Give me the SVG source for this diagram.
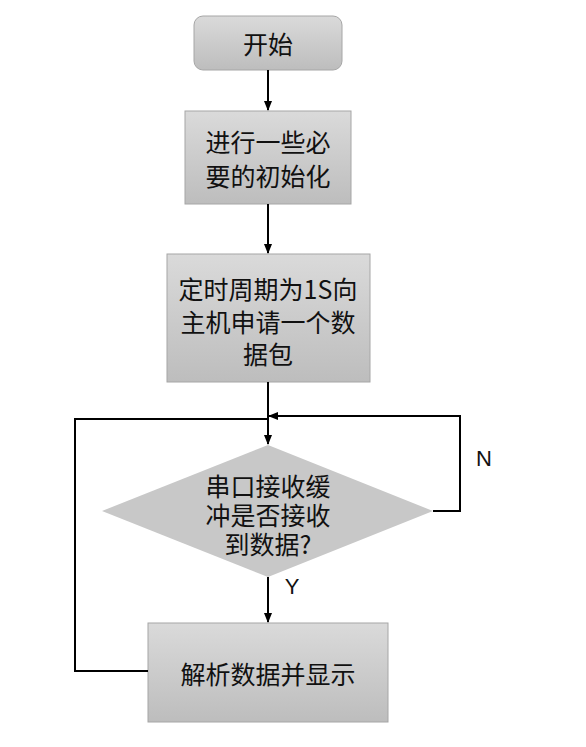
<svg xmlns="http://www.w3.org/2000/svg" width="586" height="747" viewBox="0 0 586 747">
<defs>
<linearGradient id="g" x1="0" y1="0" x2="0" y2="1">
<stop offset="0" stop-color="#dadada"/>
<stop offset="1" stop-color="#bdbdbd"/>
</linearGradient>
<marker id="ah" markerWidth="10" markerHeight="10" refX="9" refY="5" orient="auto" markerUnits="userSpaceOnUse">
<path d="M0,1 L10,5 L0,9 Z" fill="#000"/>
</marker>
<style>
.box{fill:url(#g);stroke:#a6a6a6;stroke-width:1}
.t{font-family:"Noto Sans CJK SC","Noto Sans",sans-serif;font-size:25px;fill:#111;text-anchor:middle;dominant-baseline:central}
.l{font-family:"Liberation Sans","DejaVu Sans",sans-serif;font-size:22px;fill:#111;text-anchor:middle;dominant-baseline:central}
.c{fill:none;stroke:#000;stroke-width:2}
</style>
</defs>
<rect width="586" height="747" fill="#fff"/>
<g id="start">
<rect class="box" x="194" y="16" width="148" height="54" rx="9"/>
<text class="t" x="268" y="43">开始</text>
</g>
<g id="init">
<rect class="box" x="185" y="111" width="166" height="93"/>
<text class="t" x="268" y="141">进行一些必</text>
<text class="t" x="268" y="175">要的初始化</text>
</g>
<g id="timer">
<rect class="box" x="167" y="254" width="203" height="128"/>
<text class="t" x="268" y="288">定时周期为1S向</text>
<text class="t" x="268" y="321">主机申请一个数</text>
<text class="t" x="268" y="353">据包</text>
</g>
<g id="check">
<polygon points="268,445 433,511 268,577 102,511" fill="#c8c8c8"/>
<text class="t" x="268" y="485">串口接收缓</text>
<text class="t" x="268" y="514">冲是否接收</text>
<text class="t" x="268" y="543">到数据?</text>
</g>
<g id="parse">
<rect class="box" x="148" y="623" width="240" height="99"/>
<text class="t" x="268" y="673">解析数据并显示</text>
</g>
<g id="connectors">
<line class="c" x1="268" y1="70" x2="268" y2="110" marker-end="url(#ah)"/>
<line class="c" x1="268" y1="204" x2="268" y2="253" marker-end="url(#ah)"/>
<line class="c" x1="268" y1="382" x2="268" y2="444" marker-end="url(#ah)"/>
<polyline class="c" points="433,511 460,511 460,416 269,416" marker-end="url(#ah)"/>
<polyline class="c" points="148,671 75,671 75,419 268,419"/>
<line class="c" x1="268" y1="577" x2="268" y2="622" marker-end="url(#ah)"/>
<text class="l" x="484" y="458">N</text>
<text class="l" x="292" y="586">Y</text>
</g>
</svg>
